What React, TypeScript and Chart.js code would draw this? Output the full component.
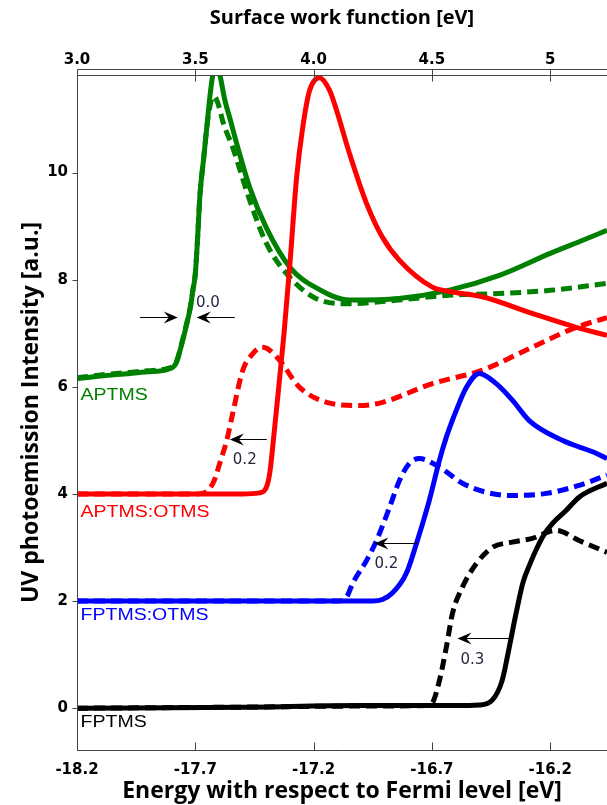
import React, { useEffect, useRef } from "react";
import { Chart, registerables } from "chart.js";

Chart.register(...registerables);

// ---- axes ----
const X_MIN = -18.2;
const X_MAX = -15.96;
const Y_MIN = -0.78;
const Y_MAX = 11.82;
const WF_OFFSET = 21.2; // work function = energy + 21.2

const bottomTicks = [-18.2, -17.7, -17.2, -16.7, -16.2];
const bottomTickLabels = ["-18.2", "-17.7", "-17.2", "-16.7", "-16.2"];
const topTicks = [3.0, 3.5, 4.0, 4.5, 5.0];
const topTickLabels = ["3.0", "3.5", "4.0", "4.5", "5"];
const yTicks = [0, 2, 4, 6, 8, 10];

// ---- series (energy [eV], intensity [a.u.]) ----
const aptmsX = [-18.2, -18.1, -18.0, -17.9, -17.82, -17.78, -17.76, -17.74, -17.72, -17.71, -17.7, -17.69, -17.68, -17.665, -17.65, -17.64, -17.625, -17.61, -17.6, -17.575, -17.55, -17.525, -17.47, -17.4, -17.3, -17.19, -17.05, -16.84, -16.63, -16.415, -16.2, -16.065, -15.96];
const aptmsY = [6.15, 6.2, 6.24, 6.28, 6.32, 6.45, 6.75, 7.1, 7.5, 7.8, 8.1, 8.8, 9.6, 10.25, 10.9, 11.35, 11.85, 12.0, 11.9, 11.35, 10.95, 10.54, 9.72, 8.97, 8.23, 7.85, 7.62, 7.65, 7.8, 8.08, 8.49, 8.73, 8.92];

const aptmsPX = [-18.2, -18.1, -18.0, -17.9, -17.82, -17.78, -17.76, -17.74, -17.72, -17.71, -17.7, -17.69, -17.68, -17.665, -17.65, -17.635, -17.62, -17.605, -17.58, -17.542, -17.47, -17.4, -17.3, -17.19, -17.05, -16.84, -16.63, -16.415, -16.2, -15.96];
const aptmsPY = [6.17, 6.22, 6.26, 6.3, 6.34, 6.47, 6.77, 7.12, 7.52, 7.82, 8.12, 8.8, 9.6, 10.25, 10.9, 11.3, 11.42, 11.3, 10.9, 10.47, 9.48, 8.68, 8.04, 7.65, 7.55, 7.62, 7.71, 7.74, 7.8, 7.93];

const aoX = [-18.2, -17.8, -17.5, -17.43, -17.4, -17.385, -17.37, -17.345, -17.325, -17.3, -17.272, -17.246, -17.217, -17.175, -17.132, -17.103, -17.048, -16.976, -16.909, -16.837, -16.698, -16.626, -16.487, -16.276, -16.09, -15.96];
const aoY = [4.0, 4.0, 4.0, 4.02, 4.12, 4.4, 5.0, 6.1, 7.0, 8.3, 9.9, 10.84, 11.53, 11.77, 11.53, 11.16, 10.35, 9.42, 8.79, 8.36, 7.86, 7.78, 7.68, 7.37, 7.11, 6.96];

const aoPX = [-18.2, -17.9, -17.7, -17.651, -17.62, -17.597, -17.567, -17.542, -17.5, -17.457, -17.42, -17.398, -17.343, -17.259, -17.145, -17.006, -16.909, -16.698, -16.487, -16.276, -16.09, -15.96];
const aoPY = [4.0, 4.0, 4.0, 4.05, 4.25, 4.57, 5.0, 5.5, 6.3, 6.62, 6.74, 6.72, 6.49, 5.99, 5.71, 5.65, 5.71, 6.06, 6.31, 6.74, 7.11, 7.29];

const foX = [-18.2, -17.5, -16.95, -16.909, -16.867, -16.808, -16.765, -16.711, -16.668, -16.639, -16.597, -16.554, -16.5, -16.428, -16.36, -16.289, -16.149, -16.006, -15.96];
const foY = [2.0, 2.0, 2.0, 2.03, 2.15, 2.52, 3.08, 3.88, 4.63, 5.06, 5.56, 5.99, 6.25, 6.06, 5.75, 5.37, 5.0, 4.76, 4.66];

const foPX = [-18.2, -17.5, -17.1, -17.06, -17.035, -16.976, -16.934, -16.879, -16.837, -16.795, -16.753, -16.668, -16.571, -16.47, -16.36, -16.217, -16.078, -15.96];
const foPY = [2.0, 2.0, 2.0, 2.08, 2.33, 2.76, 3.13, 3.75, 4.25, 4.57, 4.66, 4.5, 4.2, 4.03, 3.97, 4.01, 4.16, 4.35];

const fX = [-18.2, -17.5, -17.0, -16.6, -16.5, -16.445, -16.403, -16.373, -16.343, -16.315, -16.285, -16.255, -16.225, -16.19, -16.133, -16.078, -15.96];
const fY = [0.0, 0.02, 0.05, 0.05, 0.06, 0.15, 0.52, 1.14, 1.8, 2.35, 2.7, 3.0, 3.25, 3.45, 3.69, 3.94, 4.2];

const fPX = [-18.2, -17.5, -17.0, -16.72, -16.698, -16.668, -16.639, -16.613, -16.571, -16.512, -16.445, -16.36, -16.276, -16.175, -16.078, -15.96];
const fPY = [0.0, 0.02, 0.04, 0.05, 0.1, 0.52, 1.14, 1.77, 2.26, 2.7, 3.0, 3.1, 3.17, 3.32, 3.13, 2.91];

// ---- labels & shift annotations ----
const seriesNames = ["APTMS", "APTMS:OTMS", "FPTMS:OTMS", "FPTMS"];
const seriesColors = ["#008000", "#ff0000", "#0000ff", "#000000"];
const nameX = [-18.185, -18.185, -18.185, -18.185];
const nameY = [5.84, 3.66, 1.72, -0.26];

const shiftText = ["0.0", "0.2", "0.2", "0.3"];
const shiftTextX = [-17.647, -17.491, -16.892, -16.529];
const shiftTextY = [7.57, 4.63, 2.69, 0.9];
// arrows: from, to, y
const arrowFrom = [-17.934, -17.533, -17.398, -16.761, -16.373];
const arrowTo = [-17.774, -17.694, -17.554, -16.943, -16.592];
const arrowY = [7.31, 7.31, 5.02, 3.08, 1.31];

const toPts = (xs: number[], ys: number[]) => xs.map((x, i) => ({ x, y: ys[i] }));

const decor = {
  id: "decor",
  afterDatasetsDraw(chart: any) {
    const { ctx, chartArea: ca, scales } = chart;
    const xs = scales.x;
    const ys = scales.y;
    const xt = scales.x2;
    ctx.save();
    ctx.strokeStyle = "#444";
    ctx.lineWidth = 1;
    const L = Math.round(ca.left) + 0.5;
    const B = Math.round(ca.bottom) + 0.5;
    const T = Math.round(ca.top) + 0.5;
    const T2 = T - 6;
    const R = ca.right + 2;
    ctx.beginPath();
    ctx.moveTo(L, T2);
    ctx.lineTo(L, B);
    ctx.lineTo(R, B);
    ctx.moveTo(L, T);
    ctx.lineTo(R, T);
    ctx.moveTo(L, T2);
    ctx.lineTo(R, T2);
    yTicks.forEach((v) => {
      const p = Math.round(ys.getPixelForValue(v)) + 0.5;
      ctx.moveTo(L - 5, p);
      ctx.lineTo(L, p);
    });
    bottomTicks.forEach((v) => {
      const p = Math.round(xs.getPixelForValue(v)) + 0.5;
      ctx.moveTo(p, B);
      ctx.lineTo(p, B - 8);
    });
    topTicks.forEach((v) => {
      const p = Math.round(xt.getPixelForValue(v)) + 0.5;
      ctx.moveTo(p, T2);
      ctx.lineTo(p, T2 + 12);
    });
    ctx.stroke();

    // series names
    ctx.textBaseline = "middle";
    ctx.textAlign = "left";
    ctx.font = '16px "Liberation Sans"';
    seriesNames.forEach((s, i) => {
      const px = xs.getPixelForValue(nameX[i]);
      const py = ys.getPixelForValue(nameY[i]);
      ctx.save();
      ctx.translate(px, py);
      ctx.scale(1.22, 1);
      ctx.fillStyle = seriesColors[i];
      ctx.fillText(s, 0, 0);
      ctx.restore();
    });

    // arrows
    ctx.strokeStyle = "#000";
    ctx.fillStyle = "#000";
    ctx.lineWidth = 1;
    arrowFrom.forEach((fx, i) => {
      const x1 = xs.getPixelForValue(fx);
      const x2 = xs.getPixelForValue(arrowTo[i]);
      const y = Math.round(ys.getPixelForValue(arrowY[i])) + 0.5;
      const d = x2 > x1 ? 1 : -1;
      ctx.beginPath();
      ctx.moveTo(x1, y);
      ctx.lineTo(x2 - d * 4, y);
      ctx.stroke();
      ctx.beginPath();
      ctx.moveTo(x2, y);
      ctx.lineTo(x2 - d * 14, y - 6);
      ctx.lineTo(x2 - d * 9, y);
      ctx.lineTo(x2 - d * 14, y + 6);
      ctx.closePath();
      ctx.fill();
    });

    // shift values
    ctx.font = '15px "DejaVu Sans"';
    ctx.fillStyle = "#262640";
    ctx.textAlign = "center";
    shiftText.forEach((t, i) => {
      ctx.fillText(t, xs.getPixelForValue(shiftTextX[i]), ys.getPixelForValue(shiftTextY[i]));
    });
    ctx.restore();
  },
};

export default function App() {
  const ref = useRef<HTMLCanvasElement | null>(null);
  useEffect(() => {
    if (!ref.current) return;
    const solid = (label: string, pts: any, color: string) => ({
      label,
      data: pts,
      borderColor: color,
      backgroundColor: color,
      borderWidth: 5,
      pointRadius: 0,
      fill: false,
      cubicInterpolationMode: "monotone" as const,
    });
    const dashed = (label: string, pts: any, color: string) => ({
      ...solid(label, pts, color),
      borderDash: [11, 6],
    });
    const tickFont = { family: "DejaVu Sans", weight: "bold" as const, size: 15 };
    const chart = new Chart(ref.current, {
      type: "line",
      data: {
        datasets: [
          dashed("FPTMS ref", toPts(fPX, fPY), "#000000"),
          solid("FPTMS", toPts(fX, fY), "#000000"),
          dashed("FPTMS:OTMS ref", toPts(foPX, foPY), "#0000ff"),
          solid("FPTMS:OTMS", toPts(foX, foY), "#0000ff"),
          dashed("APTMS:OTMS ref", toPts(aoPX, aoPY), "#ff0000"),
          solid("APTMS:OTMS", toPts(aoX, aoY), "#ff0000"),
          dashed("APTMS ref", toPts(aptmsPX, aptmsPY), "#008000"),
          solid("APTMS", toPts(aptmsX, aptmsY), "#008000"),
        ],
      },
      options: {
        animation: false,
        responsive: false,
        devicePixelRatio: 1,
        layout: { padding: 0 },
        plugins: { legend: { display: false }, tooltip: { enabled: false } },
        scales: {
          x: {
            type: "linear",
            position: "bottom",
            min: X_MIN,
            max: X_MAX,
            grid: { display: false, drawTicks: false },
            border: { display: false },
            afterBuildTicks: (s: any) => {
              s.ticks = bottomTicks.map((v) => ({ value: v }));
            },
            afterFit: (s: any) => {
              s.height = 55;
            },
            ticks: {
              padding: 11,
              maxRotation: 0,
              color: "#000",
              font: tickFont,
              callback: (v: any) => {
                const i = bottomTicks.findIndex((t) => Math.abs(t - v) < 1e-6);
                return i >= 0 ? bottomTickLabels[i] : "";
              },
            },
            title: {
              display: true,
              text: "Energy with respect to Fermi level [eV]",
              color: "#000",
              font: { family: "Open Sans", weight: "bold", size: 23 },
              padding: { top: 0, bottom: 0 },
            },
          },
          x2: {
            type: "linear",
            position: "top",
            min: X_MIN + WF_OFFSET,
            max: X_MAX + WF_OFFSET,
            grid: { display: false, drawTicks: false },
            border: { display: false },
            afterBuildTicks: (s: any) => {
              s.ticks = topTicks.map((v) => ({ value: v }));
            },
            afterFit: (s: any) => {
              s.height = 75;
            },
            ticks: {
              padding: 6,
              maxRotation: 0,
              color: "#000",
              font: tickFont,
              callback: (v: any) => {
                const i = topTicks.findIndex((t) => Math.abs(t - v) < 1e-6);
                return i >= 0 ? topTickLabels[i] : "";
              },
            },
            title: {
              display: true,
              text: "Surface work function [eV]",
              color: "#000",
              font: { family: "Open Sans", weight: "bold", size: 20 },
              padding: { top: 6, bottom: 0 },
            },
          },
          y: {
            type: "linear",
            position: "left",
            min: Y_MIN,
            max: Y_MAX,
            grid: { display: false, drawTicks: false },
            border: { display: false },
            afterBuildTicks: (s: any) => {
              s.ticks = yTicks.map((v) => ({ value: v }));
            },
            afterFit: (s: any) => {
              s.width = 77;
            },
            ticks: {
              padding: 9,
              color: "#000",
              font: tickFont,
              callback: (v: any) => String(v),
            },
            title: {
              display: true,
              text: "UV photoemission Intensity [a.u.]",
              color: "#000",
              font: { family: "Open Sans", weight: "bold", size: 23 },
              padding: { top: 18, bottom: 0 },
            },
          },
        },
      },
      plugins: [decor],
    });
    return () => chart.destroy();
  }, []);
  return (
    <div style={{ position: "absolute", left: 0, top: 0, width: 607, height: 805, background: "#fff" }}>
      <canvas ref={ref} width={607} height={805} style={{ display: "block" }} />
    </div>
  );
}
